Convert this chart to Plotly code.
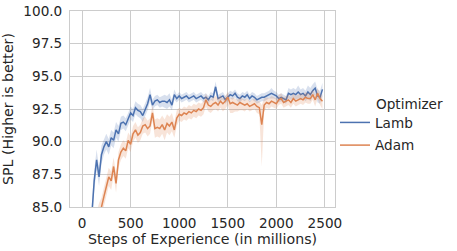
import plotly.graph_objects as go

steps = list(range(100, 2500, 25))

lamb_mean = [
    84.3, 87.0, 88.6, 87.3, 89.0, 89.6, 90.0, 89.6, 90.3, 90.1,
    90.9, 90.6, 91.4, 91.5, 91.3, 91.7, 92.2, 92.0, 92.6, 92.4,
    92.3, 92.0, 92.4, 92.9, 93.6, 92.8, 93.1, 93.2, 93.0, 93.1,
    93.1, 93.0, 93.2, 92.8, 93.6, 93.3, 93.5, 93.3, 93.4, 93.5,
    93.3, 93.4, 93.5, 93.3, 93.4, 93.5, 93.3, 93.4, 93.2, 93.5,
    93.4, 94.2, 93.3, 93.4, 93.5, 93.2, 93.4, 93.6, 93.5, 93.7,
    93.4, 93.3, 93.5, 93.4, 93.6, 93.3, 93.5, 93.4, 93.2, 93.3,
    93.4, 93.4, 93.5, 93.6, 93.7, 93.6, 93.5, 93.3, 93.4, 93.3,
    93.2, 93.7, 93.6, 93.7, 93.6, 93.8, 93.6, 93.7, 93.5, 93.8,
    93.6, 93.9, 94.1, 93.5, 93.4, 94.0,
]
lamb_err = [
    0.8, 0.8, 0.8, 0.7, 0.7, 0.6, 0.6, 0.6, 0.6, 0.6,
    0.6, 0.6, 0.5, 0.5, 0.5, 0.5, 0.5, 0.5, 0.5, 0.5,
    0.5, 0.5, 0.5, 0.5, 0.5, 0.4, 0.4, 0.4, 0.4, 0.4,
    0.5, 0.5, 0.5, 0.4, 0.4, 0.3, 0.3, 0.3, 0.3, 0.3,
    0.3, 0.3, 0.3, 0.3, 0.3, 0.3, 0.3, 0.3, 0.3, 0.3,
    0.3, 0.4, 0.3, 0.3, 0.3, 0.3, 0.3, 0.3, 0.3, 0.3,
    0.3, 0.3, 0.3, 0.3, 0.3, 0.3, 0.3, 0.3, 0.3, 0.3,
    0.3, 0.3, 0.3, 0.3, 0.4, 0.3, 0.3, 0.3, 0.3, 0.3,
    0.3, 0.4, 0.4, 0.4, 0.4, 0.5, 0.4, 0.4, 0.4, 0.5,
    0.5, 0.5, 0.5, 0.5, 0.5, 0.5,
]

adam_mean = [
    82.0, 83.0, 83.8, 84.5, 85.0, 85.8, 86.6, 87.3, 87.0, 88.1,
    86.8, 88.6, 89.2, 89.5, 89.3, 90.1, 89.8, 90.6, 90.9, 90.5,
    90.7, 91.2, 91.3, 91.0, 91.2, 92.2, 91.0, 91.1, 91.0, 91.3,
    90.9, 91.4, 91.2, 91.5, 90.9, 91.8, 92.1, 92.0, 92.2, 92.1,
    92.3, 92.2, 92.4, 92.3, 92.5, 92.4, 92.6, 93.2, 92.8, 92.7,
    92.9, 93.0, 92.8, 93.1, 92.9, 93.1, 93.4, 92.9, 93.0, 92.9,
    92.8, 93.0, 92.9, 92.8, 92.9, 92.7, 92.8, 92.9, 92.7, 92.6,
    91.3, 92.8, 93.0, 92.9, 93.1, 93.0, 92.9, 93.2, 93.3, 93.0,
    93.1, 93.2, 93.0, 93.3, 93.1, 93.2, 93.3, 93.2, 93.4, 93.3,
    93.3, 93.6, 93.2, 93.7, 93.3, 93.1,
]
adam_err_lo = [
    0.8, 0.8, 0.8, 0.8, 0.7, 0.7, 0.7, 0.7, 0.7, 0.7,
    0.7, 0.6, 0.6, 0.6, 0.6, 0.6, 0.6, 0.6, 0.6, 0.6,
    0.6, 0.6, 0.6, 0.6, 0.6, 0.6, 0.7, 0.7, 0.7, 0.7,
    0.8, 0.7, 0.7, 0.7, 0.6, 0.6, 0.5, 0.5, 0.5, 0.5,
    0.5, 0.5, 0.5, 0.5, 0.5, 0.5, 0.5, 0.5, 0.5, 0.5,
    0.5, 0.5, 0.5, 0.5, 0.6, 0.6, 0.6, 0.7, 0.8, 0.6,
    0.5, 0.6, 0.5, 0.5, 0.4, 0.4, 0.4, 0.4, 0.5, 0.5,
    3.2, 0.5, 0.4, 0.4, 0.4, 0.4, 0.4, 0.4, 0.4, 0.4,
    0.4, 0.4, 0.4, 0.4, 0.4, 0.4, 0.4, 0.4, 0.4, 0.4,
    0.4, 0.4, 0.5, 0.4, 0.5, 0.6,
]
adam_err_hi = [
    0.8, 0.8, 0.8, 0.8, 0.7, 0.7, 0.7, 0.7, 0.7, 0.7,
    0.7, 0.6, 0.6, 0.6, 0.6, 0.6, 0.6, 0.6, 0.6, 0.6,
    0.6, 0.6, 0.6, 0.6, 0.6, 0.6, 0.7, 0.7, 0.7, 0.7,
    0.8, 0.7, 0.7, 0.7, 0.6, 0.6, 0.5, 0.5, 0.5, 0.5,
    0.5, 0.5, 0.5, 0.5, 0.5, 0.5, 0.5, 0.5, 0.5, 0.5,
    0.5, 0.5, 0.5, 0.5, 0.4, 0.4, 0.4, 0.4, 0.4, 0.4,
    0.4, 0.4, 0.4, 0.4, 0.4, 0.4, 0.4, 0.4, 0.4, 0.5,
    1.5, 0.5, 0.4, 0.4, 0.4, 0.4, 0.4, 0.4, 0.4, 0.4,
    0.4, 0.4, 0.4, 0.4, 0.4, 0.4, 0.4, 0.4, 0.4, 0.4,
    0.4, 0.4, 0.4, 0.4, 0.4, 0.4,
]

x_ticks = [0, 500, 1000, 1500, 2000, 2500]
y_ticks = [85.0, 87.5, 90.0, 92.5, 95.0, 97.5, 100.0]

BLUE = "#4C72B0"
ORANGE = "#DD8452"
TEXT = "#262626"
GRID = "#cccccc"
FONT = "DejaVu Sans"

fig = go.Figure()


def add_series(name, mean, lo, hi, color, fill):
    upper = [m + h for m, h in zip(mean, hi)]
    lower = [m - l for m, l in zip(mean, lo)]
    fig.add_trace(go.Scatter(x=steps, y=upper, mode="lines", line=dict(width=0),
                             showlegend=False, hoverinfo="skip", legendgroup=name))
    fig.add_trace(go.Scatter(x=steps, y=lower, mode="lines", line=dict(width=0),
                             fill="tonexty", fillcolor=fill, showlegend=False,
                             hoverinfo="skip", legendgroup=name))
    fig.add_trace(go.Scatter(x=steps, y=mean, mode="lines", name=name,
                             legendgroup=name,
                             line=dict(color=color, width=1.5)))


add_series("Lamb", lamb_mean, lamb_err, lamb_err, BLUE, "rgba(76,114,176,0.22)")
add_series("Adam", adam_mean, adam_err_lo, adam_err_hi, ORANGE, "rgba(221,132,82,0.22)")

fig.update_layout(
    width=457, height=251,
    margin=dict(l=70, r=122, t=11, b=44, autoexpand=False),
    paper_bgcolor="white", plot_bgcolor="white",
    font=dict(family=FONT, size=13.6, color=TEXT),
    hovermode=False,
    legend=dict(x=1.0, xanchor="left", y=0.372, yanchor="middle",
                font=dict(size=13.6, color=TEXT), bgcolor="rgba(0,0,0,0)",
                traceorder="grouped", tracegroupgap=2, itemwidth=30),
    annotations=[dict(text="Optimizer", xref="paper", yref="paper",
                      x=1.149, y=0.525, xanchor="left", yanchor="middle",
                      showarrow=False, font=dict(size=13.6, color=TEXT))],
    xaxis=dict(range=[-124, 2604], tickvals=x_ticks, showgrid=True,
               gridcolor=GRID, gridwidth=1, zeroline=False, showline=True,
               linecolor=GRID, mirror=True, ticks="outside", ticklen=4,
               tickcolor="rgba(0,0,0,0)", ticklabeloverflow="allow",
               automargin=False, tickfont=dict(size=13.6),
               title=dict(text="Steps of Experience (in millions)", standoff=2,
                          font=dict(size=14.2))),
    yaxis=dict(range=[85, 100], tickvals=y_ticks, tickformat=".1f",
               showgrid=True, gridcolor=GRID, gridwidth=1, zeroline=False,
               showline=True, linecolor=GRID, mirror=True, ticks="outside",
               ticklen=4, tickcolor="rgba(0,0,0,0)", ticklabeloverflow="allow",
               automargin=False, tickfont=dict(size=13.6),
               title=dict(text="SPL (Higher is better)", standoff=8,
                          font=dict(size=14.2))),
)

fig.write_html("out.html", config={"displayModeBar": False},
               post_script="document.body.style.margin='0';")
